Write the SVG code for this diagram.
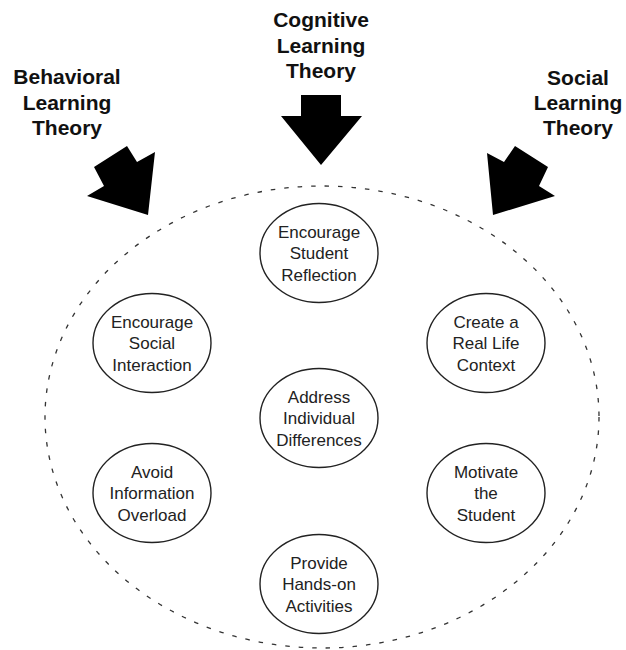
<svg xmlns="http://www.w3.org/2000/svg" width="626" height="650" viewBox="0 0 626 650">
<style>
.title{font-family:"Liberation Sans",Arial,sans-serif;font-weight:bold;font-size:21px;fill:#111;text-anchor:middle}
.lbl{font-family:"Liberation Sans",Arial,sans-serif;font-size:17px;fill:#222;text-anchor:middle}
.node{fill:#fff;stroke:#222;stroke-width:1.4}
.arrow{fill:#000;stroke:none}
.boundary{fill:none;stroke:#333;stroke-width:1.3;stroke-dasharray:4.5 9}
</style>
<rect width="626" height="650" fill="#fff"/>
<ellipse id="boundary" class="boundary" cx="322" cy="417" rx="277" ry="231"/>
<g id="theories">
  <g id="behavioral">
    <text class="title" x="67" y="84">Behavioral</text>
    <text class="title" x="67" y="110">Learning</text>
    <text class="title" x="67" y="135">Theory</text>
  </g>
  <g id="cognitive">
    <text class="title" x="321" y="27">Cognitive</text>
    <text class="title" x="321" y="53">Learning</text>
    <text class="title" x="321" y="78">Theory</text>
  </g>
  <g id="social">
    <text class="title" x="578" y="85">Social</text>
    <text class="title" x="578" y="110">Learning</text>
    <text class="title" x="578" y="135">Theory</text>
  </g>
</g>
<g id="connectors">
  <polygon class="arrow" points="148,215 155,152 137,162 127,146 94,167 104,186 87,196"/>
  <polygon class="arrow" points="301,95 341,95 341,116 362,116 321,165 281,116 301,116"/>
  <polygon class="arrow" points="493,215 487,153 504,162 515,146 548,167 539,186 555,196"/>
</g>
<g id="n-reflection">
  <ellipse class="node" cx="319" cy="253" rx="59" ry="49.5"/>
  <text class="lbl" x="319" y="237.5">Encourage</text>
  <text class="lbl" x="319" y="259">Student</text>
  <text class="lbl" x="319" y="280.5">Reflection</text>
</g>
<g id="n-social">
  <ellipse class="node" cx="152" cy="343" rx="59" ry="49.5"/>
  <text class="lbl" x="152" y="327.5">Encourage</text>
  <text class="lbl" x="152" y="349">Social</text>
  <text class="lbl" x="152" y="370.5">Interaction</text>
</g>
<g id="n-context">
  <ellipse class="node" cx="486" cy="343" rx="59" ry="49.5"/>
  <text class="lbl" x="486" y="327.5">Create a</text>
  <text class="lbl" x="486" y="349">Real Life</text>
  <text class="lbl" x="486" y="370.5">Context</text>
</g>
<g id="n-differences">
  <ellipse class="node" cx="319" cy="418" rx="59" ry="49.5"/>
  <text class="lbl" x="319" y="402.5">Address</text>
  <text class="lbl" x="319" y="424">Individual</text>
  <text class="lbl" x="319" y="445.5">Differences</text>
</g>
<g id="n-overload">
  <ellipse class="node" cx="152" cy="493" rx="59" ry="49.5"/>
  <text class="lbl" x="152" y="477.5">Avoid</text>
  <text class="lbl" x="152" y="499">Information</text>
  <text class="lbl" x="152" y="520.5">Overload</text>
</g>
<g id="n-motivate">
  <ellipse class="node" cx="486" cy="493" rx="59" ry="49.5"/>
  <text class="lbl" x="486" y="477.5">Motivate</text>
  <text class="lbl" x="486" y="499">the</text>
  <text class="lbl" x="486" y="520.5">Student</text>
</g>
<g id="n-handson">
  <ellipse class="node" cx="319" cy="584" rx="59" ry="49.5"/>
  <text class="lbl" x="319" y="568.5">Provide</text>
  <text class="lbl" x="319" y="590">Hands-on</text>
  <text class="lbl" x="319" y="611.5">Activities</text>
</g>
</svg>
